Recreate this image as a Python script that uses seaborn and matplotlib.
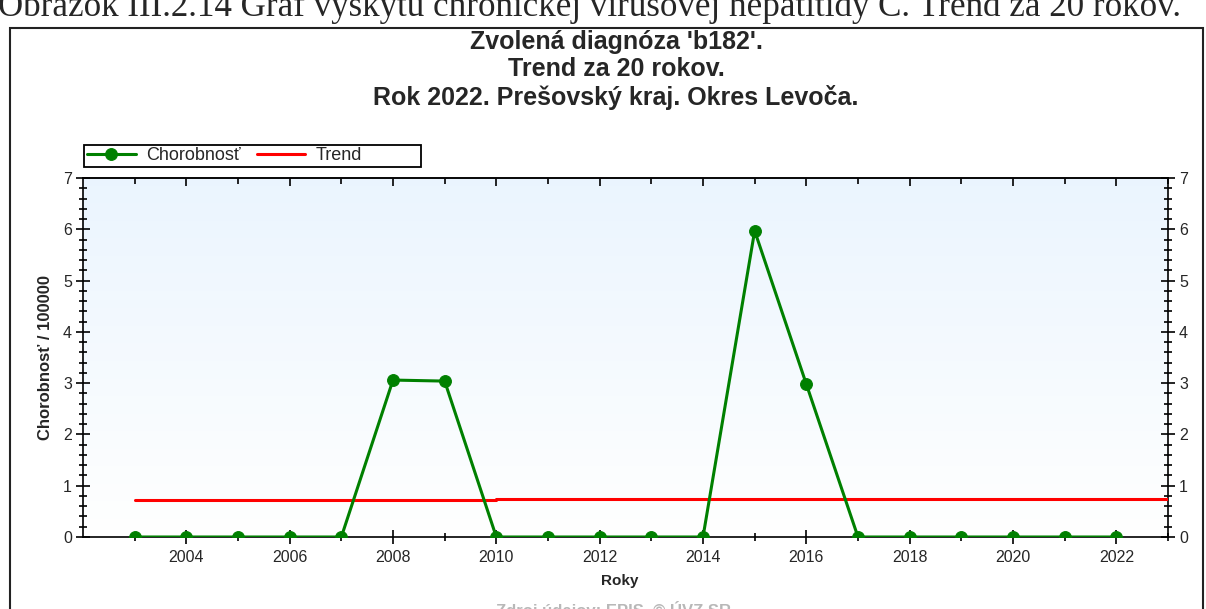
import numpy as np
import pandas as pd
import seaborn as sns
import matplotlib.pyplot as plt
import matplotlib.patches as patches
from matplotlib.ticker import FixedLocator, MultipleLocator, NullFormatter

# data
years = list(range(2003, 2023))
chorobnost = [0, 0, 0, 0, 0, 3.06, 3.04, 0, 0, 0, 0, 0, 5.97, 2.98, 0, 0, 0, 0, 0, 0]
trend_x = [2003, 2010, 2010, 2023]
trend_y = [0.72, 0.72, 0.75, 0.75]
major_years = list(range(2004, 2023, 2))
minor_years = list(range(2003, 2024, 2))

caption = "Obrázok III.2.14 Graf výskytu chronickej vírusovej hepatitídy C. Trend za 20 rokov."
title_lines = ["Zvolená diagnóza 'b182'.", "Trend za 20 rokov.", "Rok 2022. Prešovský kraj. Okres Levoča."]
source = "Zdroj údajov: EPIS, © ÚVZ SR"

sns.set_style("white")
plt.rcParams['font.family'] = ['Liberation Sans', 'DejaVu Sans']

W, H = 1206, 609
fig = plt.figure(figsize=(W / 100, H / 100), dpi=100)
fig.patch.set_facecolor('white')

def fx(px):
    return px / W

def fy(py):
    return 1 - py / H

ax = fig.add_axes([fx(83), fy(537), fx(1168) - fx(83), fy(178) - fy(537)])

# gradient background (light blue top -> white bottom)
grad = np.linspace(0, 1, 256).reshape(-1, 1, 1)
top = np.array([0.92, 0.96, 0.997])
img = top + (1 - top) * grad
ax.imshow(img, extent=[2002, 2023, 0, 7], aspect='auto', zorder=0, origin='upper')

df = pd.DataFrame({'Rok': years, 'Chorobnosť': chorobnost})
tr = pd.DataFrame({'Rok': trend_x, 'Trend': trend_y})

sns.lineplot(data=tr, x='Rok', y='Trend', ax=ax, color='#ff0000', linewidth=2.2,
             estimator=None, sort=False, label='Trend', zorder=3)
sns.lineplot(data=df, x='Rok', y='Chorobnosť', ax=ax, color='#008000', linewidth=2.2,
             marker='o', markersize=8.5, markeredgecolor='#008000', estimator=None,
             label='Chorobnosť', zorder=4)

ax.set_xlim(2002, 2023)
ax.set_ylim(0, 7)

ax.xaxis.set_major_locator(FixedLocator(major_years))
ax.xaxis.set_minor_locator(FixedLocator(minor_years))
ax.yaxis.set_major_locator(MultipleLocator(1))
ax.yaxis.set_minor_locator(MultipleLocator(0.2))

for s in ax.spines.values():
    s.set_visible(True)
    s.set_color('black')
    s.set_linewidth(1.2)

ax.tick_params(axis='x', which='major', bottom=True, top=False, direction='inout',
               length=10, width=1.2, labelsize=11.5, pad=4, color='black')
ax.tick_params(axis='x', which='minor', bottom=True, top=False, direction='inout',
               length=6, width=1.2, color='black')
ax.tick_params(axis='y', which='major', left=True, right=True, labelleft=True, labelright=True,
               direction='inout', length=10, width=1.2, labelsize=11.5, pad=3, color='black')
ax.tick_params(axis='y', which='minor', left=True, right=True, direction='inout',
               length=6, width=1.2, color='black')

# top axis: ticks pointing inside only
sec = ax.secondary_xaxis('top')
sec.xaxis.set_major_locator(FixedLocator(major_years))
sec.xaxis.set_minor_locator(FixedLocator(minor_years))
sec.xaxis.set_major_formatter(NullFormatter())
sec.tick_params(which='major', direction='in', length=6, width=1.2, color='black')
sec.tick_params(which='minor', direction='in', length=4, width=1.2, color='black')
sec.spines['top'].set_linewidth(1.2)

ax.set_xlabel('Roky', fontsize=11, fontweight='bold')
ax.set_ylabel('Chorobnosť / 100000', fontsize=12, fontweight='bold')
ax.xaxis.set_label_coords((620 - 83) / 1085, -(581 - 537) / 359)
ax.yaxis.set_label_coords(-(83 - 45) / 1085, 0.5)
ax.xaxis.label.set_va('center')
ax.yaxis.label.set_va('center')

# legend above the plot, with its own box
handles, labels = ax.get_legend_handles_labels()
order = [labels.index('Chorobnosť'), labels.index('Trend')]
leg = ax.legend([handles[i] for i in order], [labels[i] for i in order],
                ncol=2, loc='center left', bbox_to_anchor=(fx(87), fy(156)),
                bbox_transform=fig.transFigure, borderaxespad=0, borderpad=0,
                frameon=False, fontsize=13, handlelength=2.7, handletextpad=0.55,
                columnspacing=0.9)
box = patches.Rectangle((fx(84), fy(167)), fx(421) - fx(84), fy(145) - fy(167),
                        transform=fig.transFigure, fill=False, edgecolor='black',
                        linewidth=1.3)
fig.add_artist(box)

# titles
fig.text(fx(616), fy(70), "\n".join(title_lines), ha='center', va='center',
         fontsize=18, fontweight='bold', linespacing=1.17)

# outer frame of the picture
frame = patches.Rectangle((fx(10), -0.05), fx(1203) - fx(10), fy(28) + 0.05,
                          transform=fig.transFigure, fill=False, edgecolor='#222222',
                          linewidth=1.5, clip_on=False)
fig.add_artist(frame)

# caption above the frame, cut by the top edge as in the reference
fig.text(fx(-2), fy(16), caption, ha='left', va='baseline', fontsize=25.2,
         family=['Liberation Serif', 'DejaVu Serif'])

# source line at the bottom, cut by the bottom edge
fig.text(fx(614), fy(601), source, ha='center', va='top', fontsize=12,
         fontweight='bold', color='#b8b8b8')

fig.savefig('out.png', dpi=100, facecolor='white')
